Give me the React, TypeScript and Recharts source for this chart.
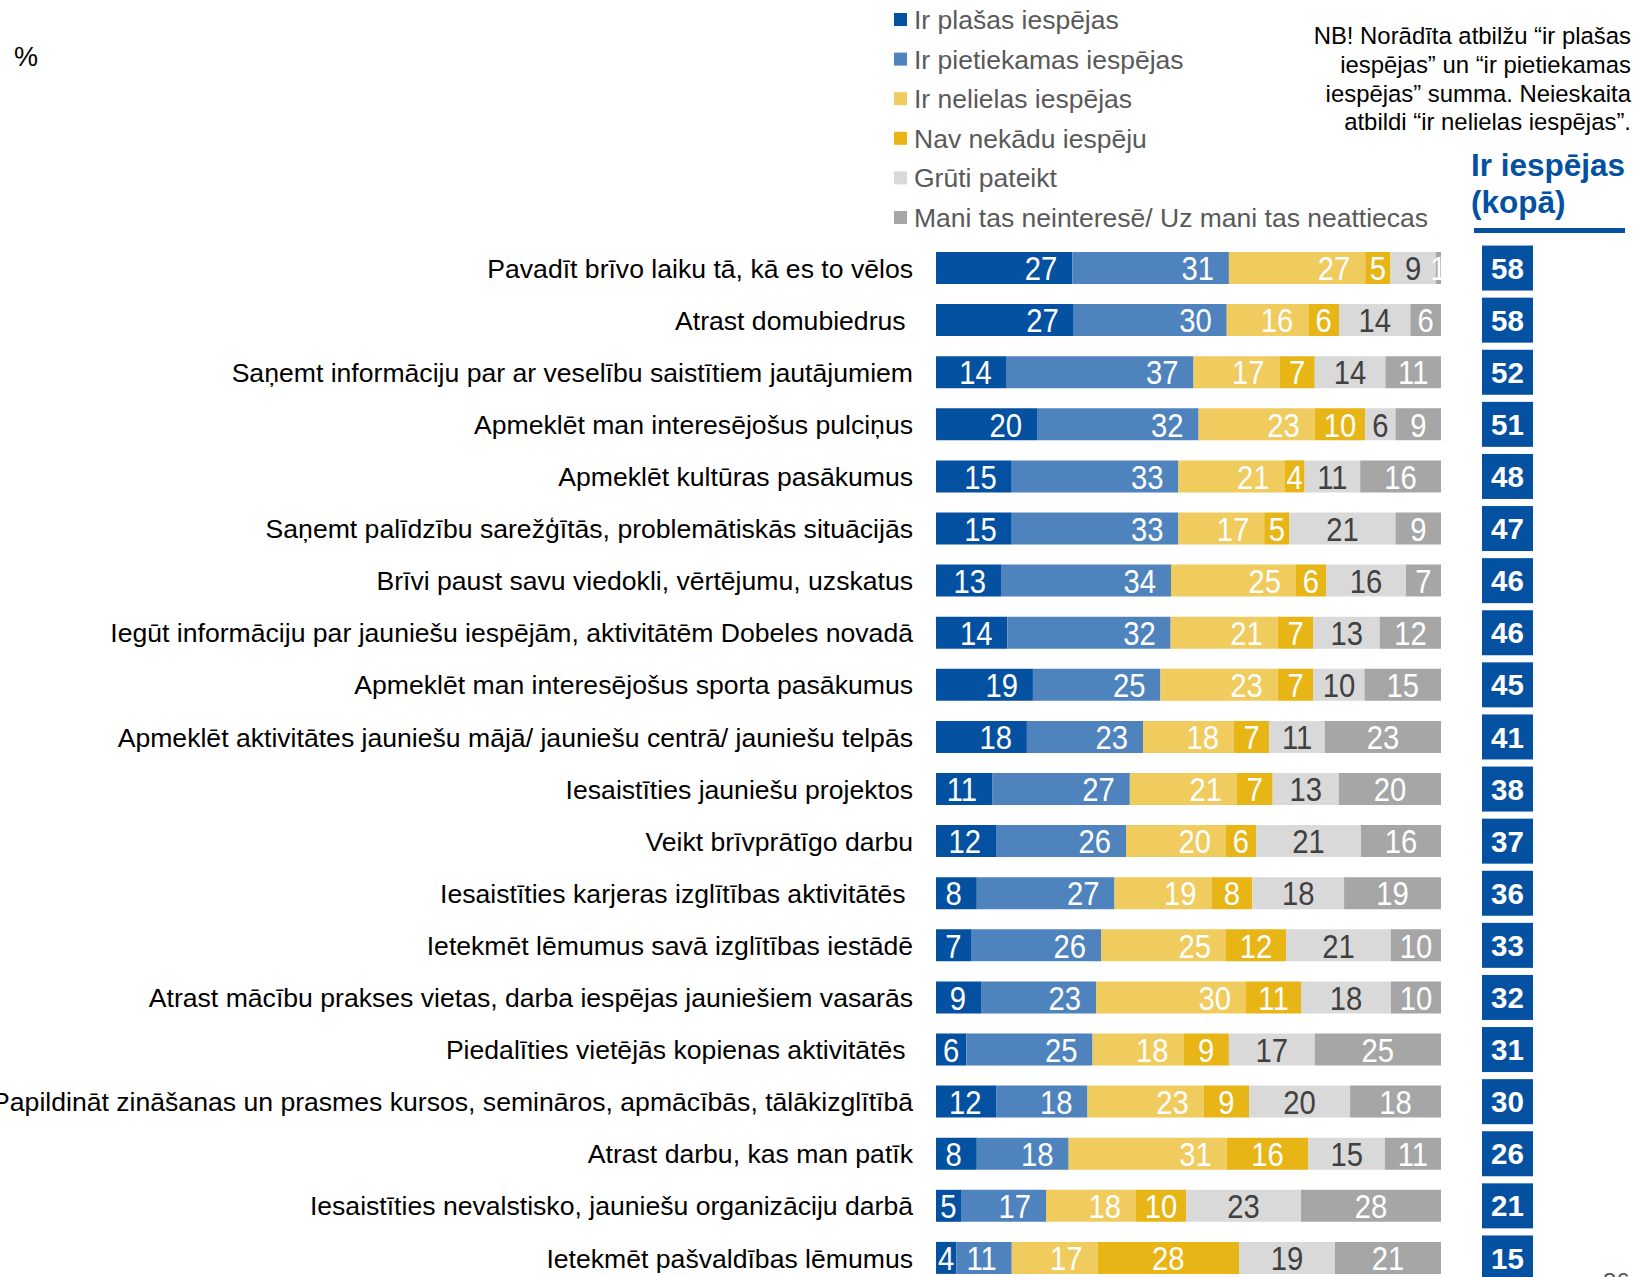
import React from "react";
import { BarChart, Bar, XAxis, YAxis, LabelList } from "recharts";

const categories = [
  "Pavadīt brīvo laiku tā, kā es to vēlos",
  "Atrast domubiedrus ",
  "Saņemt informāciju par ar veselību saistītiem jautājumiem",
  "Apmeklēt man interesējošus pulciņus",
  "Apmeklēt kultūras pasākumus",
  "Saņemt palīdzību sarežģītās, problemātiskās situācijās",
  "Brīvi paust savu viedokli, vērtējumu, uzskatus",
  "Iegūt informāciju par jauniešu iespējām, aktivitātēm Dobeles novadā",
  "Apmeklēt man interesējošus sporta pasākumus",
  "Apmeklēt aktivitātes jauniešu mājā/ jauniešu centrā/ jauniešu telpās",
  "Iesaistīties jauniešu projektos",
  "Veikt brīvprātīgo darbu",
  "Iesaistīties karjeras izglītības aktivitātēs ",
  "Ietekmēt lēmumus savā izglītības iestādē",
  "Atrast mācību prakses vietas, darba iespējas jauniešiem vasarās",
  "Piedalīties vietējās kopienas aktivitātēs ",
  "Papildināt zināšanas un prasmes kursos, semināros, apmācībās, tālākizglītībā",
  "Atrast darbu, kas man patīk",
  "Iesaistīties nevalstisko, jauniešu organizāciju darbā",
  "Ietekmēt pašvaldības lēmumus",
];

const plasas = [27, 27, 14, 20, 15, 15, 13, 14, 19, 18, 11, 12, 8, 7, 9, 6, 12, 8, 5, 4];
const pietiekamas = [31, 30, 37, 32, 33, 33, 34, 32, 25, 23, 27, 26, 27, 26, 23, 25, 18, 18, 17, 11];
const nelielas = [27, 16, 17, 23, 21, 17, 25, 21, 23, 18, 21, 20, 19, 25, 30, 18, 23, 31, 18, 17];
const navNekadu = [5, 6, 7, 10, 4, 5, 6, 7, 7, 7, 7, 6, 8, 12, 11, 9, 9, 16, 10, 28];
const gruti = [9, 14, 14, 6, 11, 21, 16, 13, 10, 11, 13, 21, 18, 21, 18, 17, 20, 15, 23, 19];
const neinterese = [1, 6, 11, 9, 16, 9, 7, 12, 15, 23, 20, 16, 19, 10, 10, 25, 18, 11, 28, 21];
const totals = [58, 58, 52, 51, 48, 47, 46, 46, 45, 41, 38, 37, 36, 33, 32, 31, 30, 26, 21, 15];

const seriesNames = [
  "Ir plašas iespējas",
  "Ir pietiekamas iespējas",
  "Ir nelielas iespējas",
  "Nav nekādu iespēju",
  "Grūti pateikt",
  "Mani tas neinteresē/ Uz mani tas neattiecas",
];

const noteLines = [
  "NB! Norādīta atbilžu “ir plašas",
  "iespējas” un “ir pietiekamas",
  "iespējas” summa. Neieskaita",
  "atbildi “ir nelielas iespējas”.",
];

const headerLines = ["Ir iespējas", "(kopā)"];

const keys = ["s1", "s2", "s3", "s4", "s5", "s6"];
const colors = ["#0451A1", "#4F83BE", "#F0CB5E", "#E8B517", "#D9D9D9", "#A6A6A6"];
const labelColors = ["#FFFFFF", "#FFFFFF", "#FFFFFF", "#FFFFFF", "#404040", "#FFFFFF"];
const labelPos = ["right", "right", "right", "center", "center", "center"];

const data = categories.map((cat, i) => ({
  cat,
  s1: plasas[i],
  s2: pietiekamas[i],
  s3: nelielas[i],
  s4: navNekadu[i],
  s5: gruti[i],
  s6: neinterese[i],
}));

const SANS = "'Liberation Sans', Arial, sans-serif";
const BLUE = "#0451A1";

const CatTick = (props: any) => {
  const { x, y, payload } = props;
  return (
    <text
      x={x}
      y={y}
      dy="0.36em"
      textAnchor="end"
      fontSize={26.6}
      fontFamily={SANS}
      fill="#000"
      style={{ whiteSpace: "pre" }}
    >
      {payload.value}
    </text>
  );
};

const TotalTick = (props: any) => {
  const { x, y, payload } = props;
  const idx = categories.indexOf(payload.value);
  const w = 51;
  const h = 45;
  return (
    <g>
      <rect x={x} y={y - h / 2} width={w} height={h} fill={BLUE} />
      <text
        x={x + w / 2}
        y={y}
        dy="0.36em"
        textAnchor="middle"
        fontSize={29.5}
        fontWeight="bold"
        fontFamily={SANS}
        fill="#fff"
      >
        {totals[idx]}
      </text>
    </g>
  );
};

const makeLabel = (si: number) => (p: any) => {
  const vb = { ...p, ...(p.viewBox || {}) };
  const x = Number(vb.x);
  const y = Number(vb.y);
  const width = Number(vb.width);
  const height = Number(vb.height);
  const value = p.value;
  if (value === undefined || value === null) return null;
  let tx: number;
  let anchor: "end" | "middle";
  if (labelPos[si] === "right" && width >= 40) {
    tx = x + width - 15;
    anchor = "end";
  } else {
    tx = x + width / 2;
    anchor = "middle";
  }
  const cy = y + height / 2;
  return (
    <text
      transform={`translate(${tx},${cy}) scale(0.86,1)`}
      x={0}
      y={0}
      dy="0.36em"
      textAnchor={anchor}
      fontSize={34}
      fontFamily={SANS}
      fill={labelColors[si]}
    >
      {value}
    </text>
  );
};

export default function App() {
  return (
    <div
      style={{
        position: "absolute",
        left: 0,
        top: 0,
        width: 1634,
        height: 1277,
        overflow: "hidden",
        background: "#fff",
      }}
    >
      <BarChart
        width={1634}
        height={1277}
        data={data}
        layout="vertical"
        stackOffset="expand"
        barSize={32}
        margin={{ top: 242, right: 0, bottom: -7, left: 0 }}
      >
        <XAxis type="number" hide domain={[0, 1]} />
        <YAxis
          yAxisId="l"
          type="category"
          dataKey="cat"
          width={936}
          axisLine={false}
          tickLine={false}
          tickSize={0}
          tickMargin={23}
          interval={0}
          tick={CatTick}
        />
        <YAxis
          yAxisId="r"
          orientation="right"
          type="category"
          dataKey="cat"
          width={193}
          axisLine={false}
          tickLine={false}
          tickSize={0}
          tickMargin={41}
          interval={0}
          tick={TotalTick}
        />
        {keys.map((k, si) => (
          <Bar
            key={k}
            yAxisId="l"
            dataKey={k}
            stackId="a"
            fill={colors[si]}
            isAnimationActive={false}
          >
            <LabelList dataKey={k} content={makeLabel(si)} />
          </Bar>
        ))}
      </BarChart>
      <svg
        width={1634}
        height={1277}
        style={{ position: "absolute", left: 0, top: 0, pointerEvents: "none" }}
      >
        <text x={14} y={66} fontSize={27} fontFamily={SANS} fill="#000">
          %
        </text>
        {seriesNames.map((n, i) => (
          <g key={n}>
            <rect x={894} y={19.5 + i * 39.6 - 6.5} width={13} height={13} fill={colors[i]} />
            <text
              x={914}
              y={19.5 + i * 39.6}
              dy="0.36em"
              fontSize={26.5}
              fontFamily={SANS}
              fill="#595959"
            >
              {n}
            </text>
          </g>
        ))}
        {noteLines.map((l, i) => (
          <text
            key={i}
            x={1631}
            y={44 + i * 28.8}
            textAnchor="end"
            fontSize={23.9}
            fontFamily={SANS}
            fill="#000"
          >
            {l}
          </text>
        ))}
        {headerLines.map((l, i) => (
          <text
            key={i}
            x={1471}
            y={176 + i * 37}
            fontSize={31.5}
            fontWeight="bold"
            fontFamily={SANS}
            fill={BLUE}
          >
            {l}
          </text>
        ))}
        <rect x={1474} y={228} width={151} height={5} fill={BLUE} />
        <text x={1603} y={1290} fontSize={24} fontFamily={SANS} fill="#595959">
          36
        </text>
      </svg>
    </div>
  );
}
